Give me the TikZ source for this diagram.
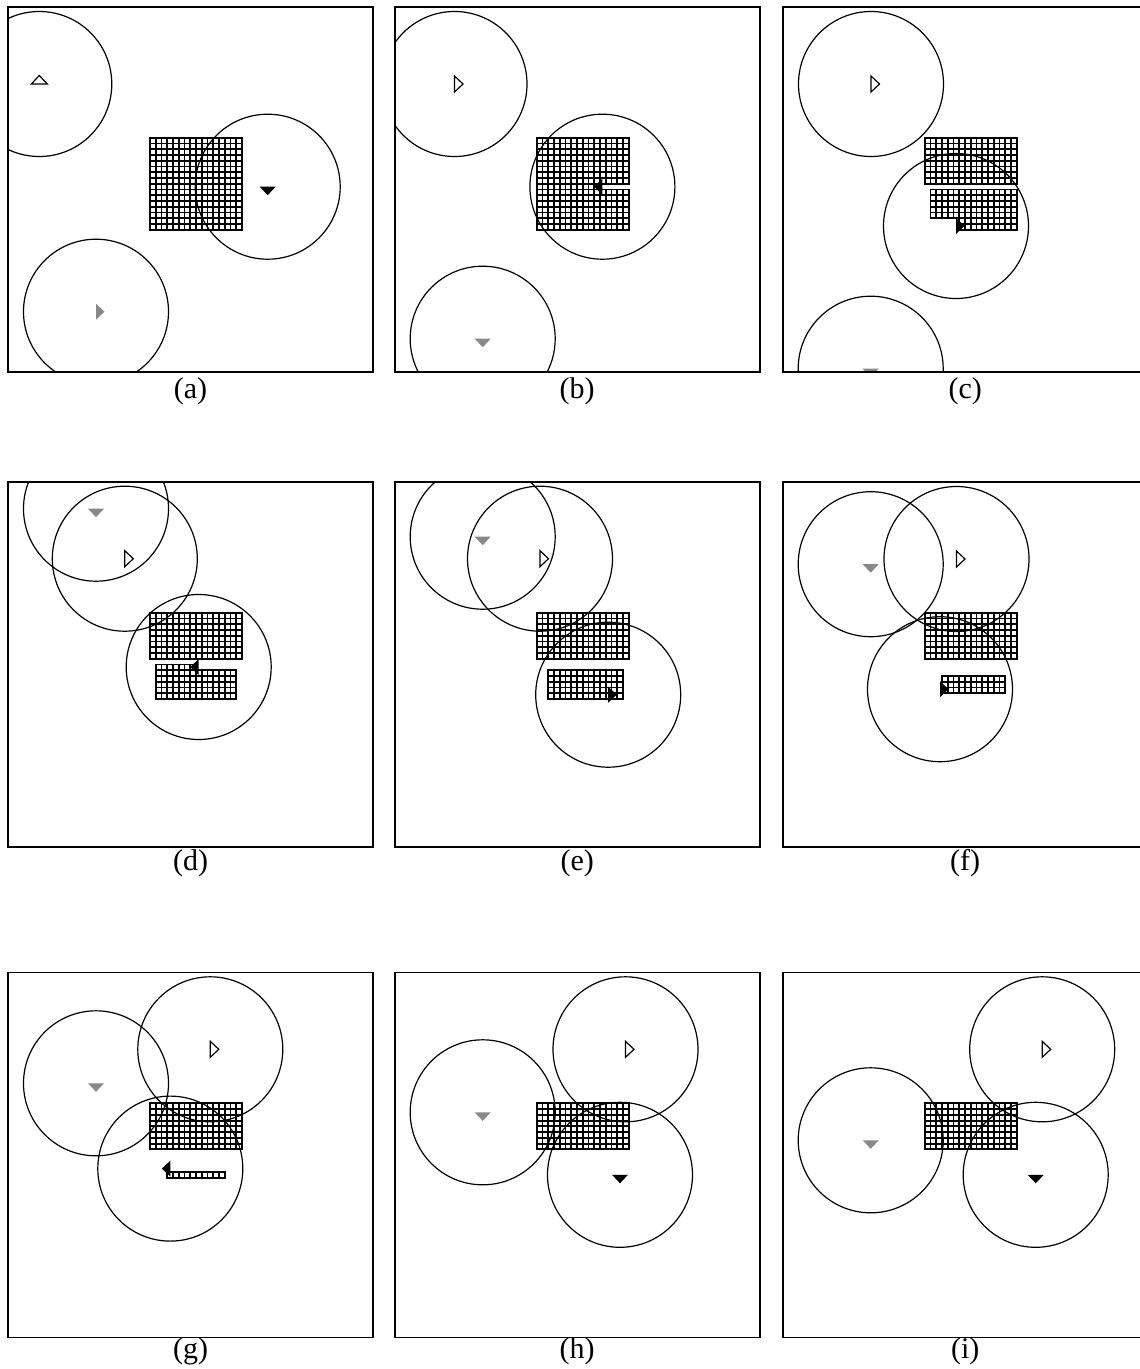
\documentclass[tikz,border=0pt]{standalone}
\usepackage{fontspec}
\setmainfont{Liberation Serif}
\definecolor{ink}{HTML}{000000}
\definecolor{botGray}{HTML}{888888}
\tikzset{
  panel frame/.style={
    draw=ink,
    line width=1.6pt
  },
  sensing range/.style={
    draw=ink,
    line width=1.2pt
  },
  cell line/.style={
    draw=ink,
    line width=1.9pt,
    line cap=rect
  },
  white robot/.style={
    draw=ink,
    fill=white,
    line width=1.2pt
  },
  black robot/.style={
    fill=ink
  },
  gray robot/.style={
    fill=botGray
  },
  panel label/.style={
    font=\fontsize{30}{36}\selectfont,
    text=ink,
    anchor=base,
    inner sep=0pt
  }
}
% block of cells: first column, first row, columns, rows
\newcommand{\cellblock}[4]{%
  \fill[white] ({142+#1*5.75},{131+#2*5.75}) rectangle ({142+(#1+#3)*5.75},{131+(#2+#4)*5.75});
  \foreach \c in {0,...,#3}{\draw[cell line] ({142+(#1+\c)*5.75},{131+#2*5.75}) -- ++(0,{#4*5.75});}
  \foreach \r in {0,...,#4}{\draw[cell line] ({142+#1*5.75},{131+(#2+\r)*5.75}) -- ++({#3*5.75},0);}
}
% robot: style, position, heading
\newcommand{\robot}[3]{\path[#1,shift={#2},rotate=#3] (0,-8) -- (8.5,0) -- (0,8) -- cycle;}

\begin{document}
\begin{tikzpicture}[x=1pt,y=-1pt]
  \useasboundingbox (0,0) rectangle (1140,1369);

  % (a)
  \begin{scope}[shift={(8,6.7)}]
    \begin{scope}
      \clip (0,0) rectangle (365,365);
      \cellblock{0}{0}{16}{16}
      \robot{white robot}{(31.3,77.3)}{90}
      \robot{black robot}{(259.7,180)}{-90}
      \robot{gray robot}{(88,305)}{0}
      \draw[sensing range] (31.3,77.3) circle[radius=72.5pt];
      \draw[sensing range] (259.7,180) circle[radius=72.5pt];
      \draw[sensing range] (88,305) circle[radius=72.5pt];
    \end{scope}
    \draw[panel frame] (0,0) rectangle (365,365);
    \node[panel label] (label-a) at (182.5,391.9) {(a)};
  \end{scope}

  % (b)
  \begin{scope}[shift={(394.7,6.7)}]
    \begin{scope}
      \clip (0,0) rectangle (365,365);
      \cellblock{0}{0}{16}{8}
      \cellblock{0}{8}{11}{1}
      \cellblock{0}{9}{16}{7}
      \robot{white robot}{(59.8,77.3)}{0}
      \robot{black robot}{(207.7,180)}{180}
      \robot{gray robot}{(88,332)}{-90}
      \draw[sensing range] (59.8,77.3) circle[radius=72.5pt];
      \draw[sensing range] (207.7,180) circle[radius=72.5pt];
      \draw[sensing range] (88,332) circle[radius=72.5pt];
    \end{scope}
    \draw[panel frame] (0,0) rectangle (365,365);
    \node[panel label] (label-b) at (182.5,391.9) {(b)};
  \end{scope}

  % (c)
  \begin{scope}[shift={(782.7,6.7)}]
    \begin{scope}
      \clip (0,0) rectangle (365,365);
      \cellblock{0}{0}{16}{8}
      \cellblock{1}{9}{15}{5}
      \cellblock{6}{14}{10}{2}
      \robot{white robot}{(88.3,77.3)}{0}
      \robot{black robot}{(173.3,219.3)}{0}
      \robot{gray robot}{(88,362)}{-90}
      \draw[sensing range] (88.3,77.3) circle[radius=72.5pt];
      \draw[sensing range] (173.3,219.3) circle[radius=72.5pt];
      \draw[sensing range] (88,362) circle[radius=72.5pt];
    \end{scope}
    \draw[panel frame] (0,0) rectangle (365,365);
    \node[panel label] (label-c) at (182.5,391.9) {(c)};
  \end{scope}

  % (d)
  \begin{scope}[shift={(8,481.7)}]
    \begin{scope}
      \clip (0,0) rectangle (365,365);
      \cellblock{0}{0}{16}{8}
      \cellblock{1}{9}{7}{1}
      \cellblock{1}{10}{14}{5}
      \robot{white robot}{(116.8,77)}{0}
      \robot{black robot}{(190.7,185.3)}{180}
      \robot{gray robot}{(88,27)}{-90}
      \draw[sensing range] (116.8,77) circle[radius=72.5pt];
      \draw[sensing range] (190.7,185.3) circle[radius=72.5pt];
      \draw[sensing range] (88,27) circle[radius=72.5pt];
    \end{scope}
    \draw[panel frame] (0,0) rectangle (365,365);
    \node[panel label] (label-d) at (182.5,388.6) {(d)};
  \end{scope}

  % (e)
  \begin{scope}[shift={(394.7,481.7)}]
    \begin{scope}
      \clip (0,0) rectangle (365,365);
      \cellblock{0}{0}{16}{8}
      \cellblock{2}{10}{13}{5}
      \robot{white robot}{(145.3,77)}{0}
      \robot{black robot}{(213.5,213)}{0}
      \robot{gray robot}{(88,55)}{-90}
      \draw[sensing range] (145.3,77) circle[radius=72.5pt];
      \draw[sensing range] (213.5,213) circle[radius=72.5pt];
      \draw[sensing range] (88,55) circle[radius=72.5pt];
    \end{scope}
    \draw[panel frame] (0,0) rectangle (365,365);
    \node[panel label] (label-e) at (182.5,388.6) {(e)};
  \end{scope}

  % (f)
  \begin{scope}[shift={(782.7,481.7)}]
    \begin{scope}
      \clip (0,0) rectangle (365,365);
      \cellblock{0}{0}{16}{8}
      \cellblock{3}{11}{11}{3}
      \robot{white robot}{(173.8,77.3)}{0}
      \robot{black robot}{(157.3,207.5)}{0}
      \robot{gray robot}{(88,82.5)}{-90}
      \draw[sensing range] (173.8,77.3) circle[radius=72.5pt];
      \draw[sensing range] (157.3,207.5) circle[radius=72.5pt];
      \draw[sensing range] (88,82.5) circle[radius=72.5pt];
    \end{scope}
    \draw[panel frame] (0,0) rectangle (365,365);
    \node[panel label] (label-f) at (182.5,388.6) {(f)};
  \end{scope}

  % (g)
  \begin{scope}[shift={(8,972.3)}]
    \begin{scope}
      \clip (0,0) rectangle (365,365);
      \cellblock{0}{0}{16}{8}
      \cellblock{3}{12}{10}{1}
      \robot{white robot}{(202.3,77)}{0}
      \robot{black robot}{(162.3,196.3)}{180}
      \robot{gray robot}{(88,111)}{-90}
      \draw[sensing range] (202.3,77) circle[radius=72.5pt];
      \draw[sensing range] (162.3,196.3) circle[radius=72.5pt];
      \draw[sensing range] (88,111) circle[radius=72.5pt];
    \end{scope}
    \draw[panel frame] (0,0) rectangle (365,365);
    \node[panel label] (label-g) at (182.5,386.3) {(g)};
  \end{scope}

  % (h)
  \begin{scope}[shift={(394.7,972.3)}]
    \begin{scope}
      \clip (0,0) rectangle (365,365);
      \cellblock{0}{0}{16}{8}
      \robot{white robot}{(230.8,77)}{0}
      \robot{black robot}{(225.3,202.5)}{-90}
      \robot{gray robot}{(88,140)}{-90}
      \draw[sensing range] (230.8,77) circle[radius=72.5pt];
      \draw[sensing range] (225.3,202.5) circle[radius=72.5pt];
      \draw[sensing range] (88,140) circle[radius=72.5pt];
    \end{scope}
    \draw[panel frame] (0,0) rectangle (365,365);
    \node[panel label] (label-h) at (182.5,386.3) {(h)};
  \end{scope}

  % (i)
  \begin{scope}[shift={(782.7,972.3)}]
    \begin{scope}
      \clip (0,0) rectangle (365,365);
      \cellblock{0}{0}{16}{8}
      \robot{white robot}{(259.5,77)}{0}
      \robot{black robot}{(253,202.5)}{-90}
      \robot{gray robot}{(88,168)}{-90}
      \draw[sensing range] (259.5,77) circle[radius=72.5pt];
      \draw[sensing range] (253,202.5) circle[radius=72.5pt];
      \draw[sensing range] (88,168) circle[radius=72.5pt];
    \end{scope}
    \draw[panel frame] (0,0) rectangle (365,365);
    \node[panel label] (label-i) at (182.5,386.3) {(i)};
  \end{scope}
\end{tikzpicture}
\end{document}
